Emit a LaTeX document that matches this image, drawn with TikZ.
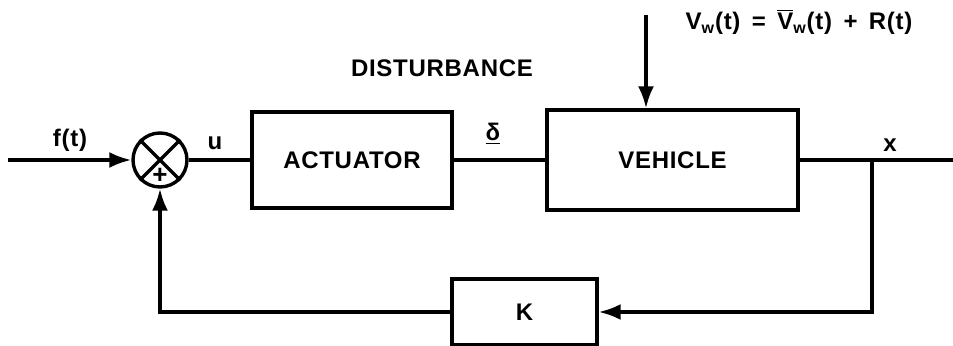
\documentclass[tikz,border=0pt]{standalone}
\usepackage{fontspec}
\setmainfont{Liberation Sans}[LetterSpace=3]
\usetikzlibrary{arrows.meta}

\begin{document}
\begin{tikzpicture}[x=0.5pt, y=-0.5pt,
  line width=1.7pt,
  sig/.style={-{Latex[length=11pt, width=8pt]}},
  block/.style={draw, rectangle, inner sep=0pt, font=\bfseries\fontsize{12}{14}\selectfont},
  sumnode/.style={draw, circle, minimum size=27pt, inner sep=0pt},
  label/.style={font=\bfseries\fontsize{12}{14}\selectfont, inner sep=1pt}
]
\useasboundingbox (0,0) rectangle (953,346);

%% --- blocks ---
\node[sumnode] (sum) at (160,160) {};
\node[block, minimum width=100pt, minimum height=48pt] (act) at (352,160) {ACTUATOR};
\node[block, minimum width=125.5pt, minimum height=50pt] (veh) at (672.5,160) {VEHICLE};
\node[block, minimum width=72.5pt, minimum height=33pt] (gain) at (524.5,312) {K};

%% --- cross inside the summing junction ---
\draw (sum.45) -- (sum.225);
\draw (sum.135) -- (sum.315);
\node[font=\bfseries\fontsize{13}{14}\selectfont, inner sep=0pt] (plus) at (160,176) {+};

%% --- free ends ---
\coordinate (in)     at (8,160);
\coordinate (out)    at (953,160);
\coordinate (branch) at (872,160);
\coordinate (dtop)   at (646,15);

%% --- forward path ---
\draw[sig] (in) -- (sum);
\draw (sum) -- (act);
\draw (act) -- (veh);
\draw (veh) -- (out);

%% --- feedback path ---
\draw[sig] (branch) |- (gain);
\draw[sig] (gain) -| (sum);

%% --- disturbance input ---
\draw[sig] (dtop) -- (dtop |- veh.north);

%% --- signal labels ---
\node[label] (flab) at (70,140) {f(t)};
\node[label] (ulab) at (215,143) {u};
\node[label] (dlab) at (493,134) {\underline{δ}};
\node[label] (xlab) at (890,145) {x};
\node[label] (dist) at (442,68) {DISTURBANCE};
\node[label] (vlab) at (799,22)
  {V\textsubscript{w}(t) \,=\, $\overline{\mbox{V}}$\textsubscript{w}(t) \,+\, R(t)};

\end{tikzpicture}
\end{document}
